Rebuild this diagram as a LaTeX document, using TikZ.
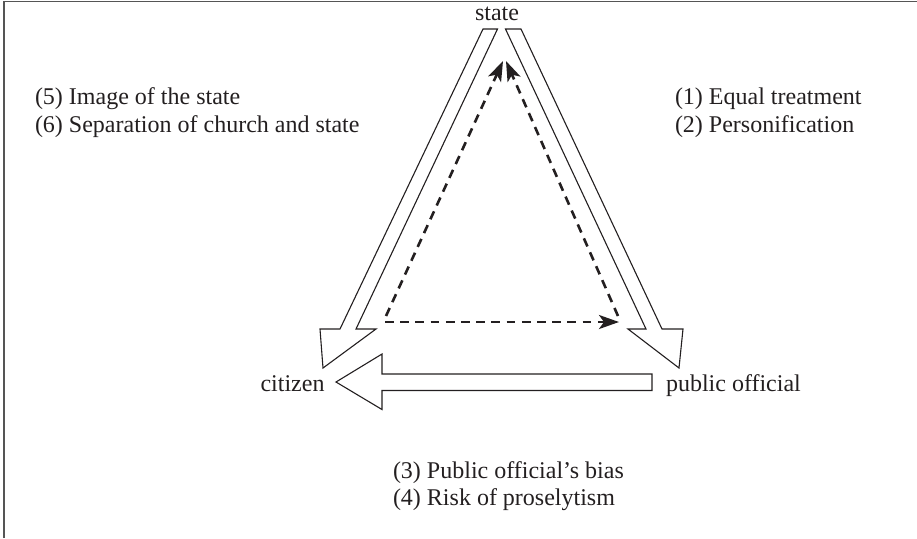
\documentclass[tikz,border=0pt]{standalone}
\usepackage{fontspec}
\setmainfont{Liberation Serif}
\usetikzlibrary{arrows.meta}
\definecolor{ink}{HTML}{231F20}
\definecolor{framec}{HTML}{555555}
\tikzset{
  lbl/.style={inner sep=0pt, outer sep=0pt, font=\fontsize{12pt}{14pt}\selectfont, text=ink},
  bigarrow/.style={draw=ink, line width=0.55pt, fill=white, line join=miter},
  dasharrow/.style={draw=ink, line width=1.3pt, dash pattern=on 4.4pt off 3.2pt,
    -{Stealth[length=10pt,width=7pt,inset=2.5pt]}},
  frameline/.style={draw=framec, line width=0.8pt}
}
\begin{document}
\begin{tikzpicture}[x=0.5pt,y=-0.5pt]
\useasboundingbox (0,0) rectangle (917,538);
% frame
\coordinate (f1) at (4,538);
\coordinate (f2) at (4,1.5);
\coordinate (f3) at (917,1.5);
\draw[frameline] (f1) -- (f2) -- (f3);

% labels
\node[lbl, anchor=base] (state) at (497,20) {state};
\node[lbl, anchor=base] (citizen) at (292.5,391) {citizen};
\node[lbl, anchor=base west] (official) at (666,391) {public official};
\node[lbl, anchor=base west] (t1) at (675,104) {(1) Equal treatment};
\node[lbl, anchor=base west] (t2) at (675,132) {(2) Personification};
\node[lbl, anchor=base west] (t5) at (35,104) {(5) Image of the state};
\node[lbl, anchor=base west] (t6) at (35,132) {(6) Separation of church and state};
\node[lbl, anchor=base west] (t3) at (393,478) {(3) Public official’s bias};
\node[lbl, anchor=base west] (t4) at (393,505) {(4) Risk of proselytism};

% big outline arrow: state -> citizen
\coordinate (la1) at (483,29);
\coordinate (la2) at (497.5,29);
\coordinate (la3) at (356,329);
\coordinate (la4) at (376,329);
\coordinate (la5) at (323,368);
\coordinate (la6) at (320,329);
\coordinate (la7) at (340,329);
\draw[bigarrow] (la1) -- (la2) -- (la3) -- (la4) -- (la5) -- (la6) -- (la7) -- cycle;

% big outline arrow: state -> public official
\coordinate (ra1) at (505.5,29);
\coordinate (ra2) at (521,29);
\coordinate (ra3) at (662,329);
\coordinate (ra4) at (683,329);
\coordinate (ra5) at (679,368);
\coordinate (ra6) at (628,329);
\coordinate (ra7) at (646,329);
\draw[bigarrow] (ra1) -- (ra2) -- (ra3) -- (ra4) -- (ra5) -- (ra6) -- (ra7) -- cycle;

% big outline arrow: public official -> citizen
\coordinate (ba1) at (652,374);
\coordinate (ba2) at (382,374);
\coordinate (ba3) at (382,354);
\coordinate (ba4) at (336,382);
\coordinate (ba5) at (382,409.5);
\coordinate (ba6) at (382,390.5);
\coordinate (ba7) at (652,390.5);
\draw[bigarrow] (ba1) -- (ba2) -- (ba3) -- (ba4) -- (ba5) -- (ba6) -- (ba7) -- cycle;

% dashed triangle
\coordinate (dl) at (386,316);
\coordinate (dr) at (618,316);
\coordinate (dtl) at (503,61);
\coordinate (dtr) at (506,61);
\coordinate (bl) at (385,322);
\coordinate (br) at (619,322);
\draw[dasharrow] (dl) -- (dtl);
\draw[dasharrow] (dr) -- (dtr);
\draw[dasharrow] (bl) -- (br);
\end{tikzpicture}
\end{document}
